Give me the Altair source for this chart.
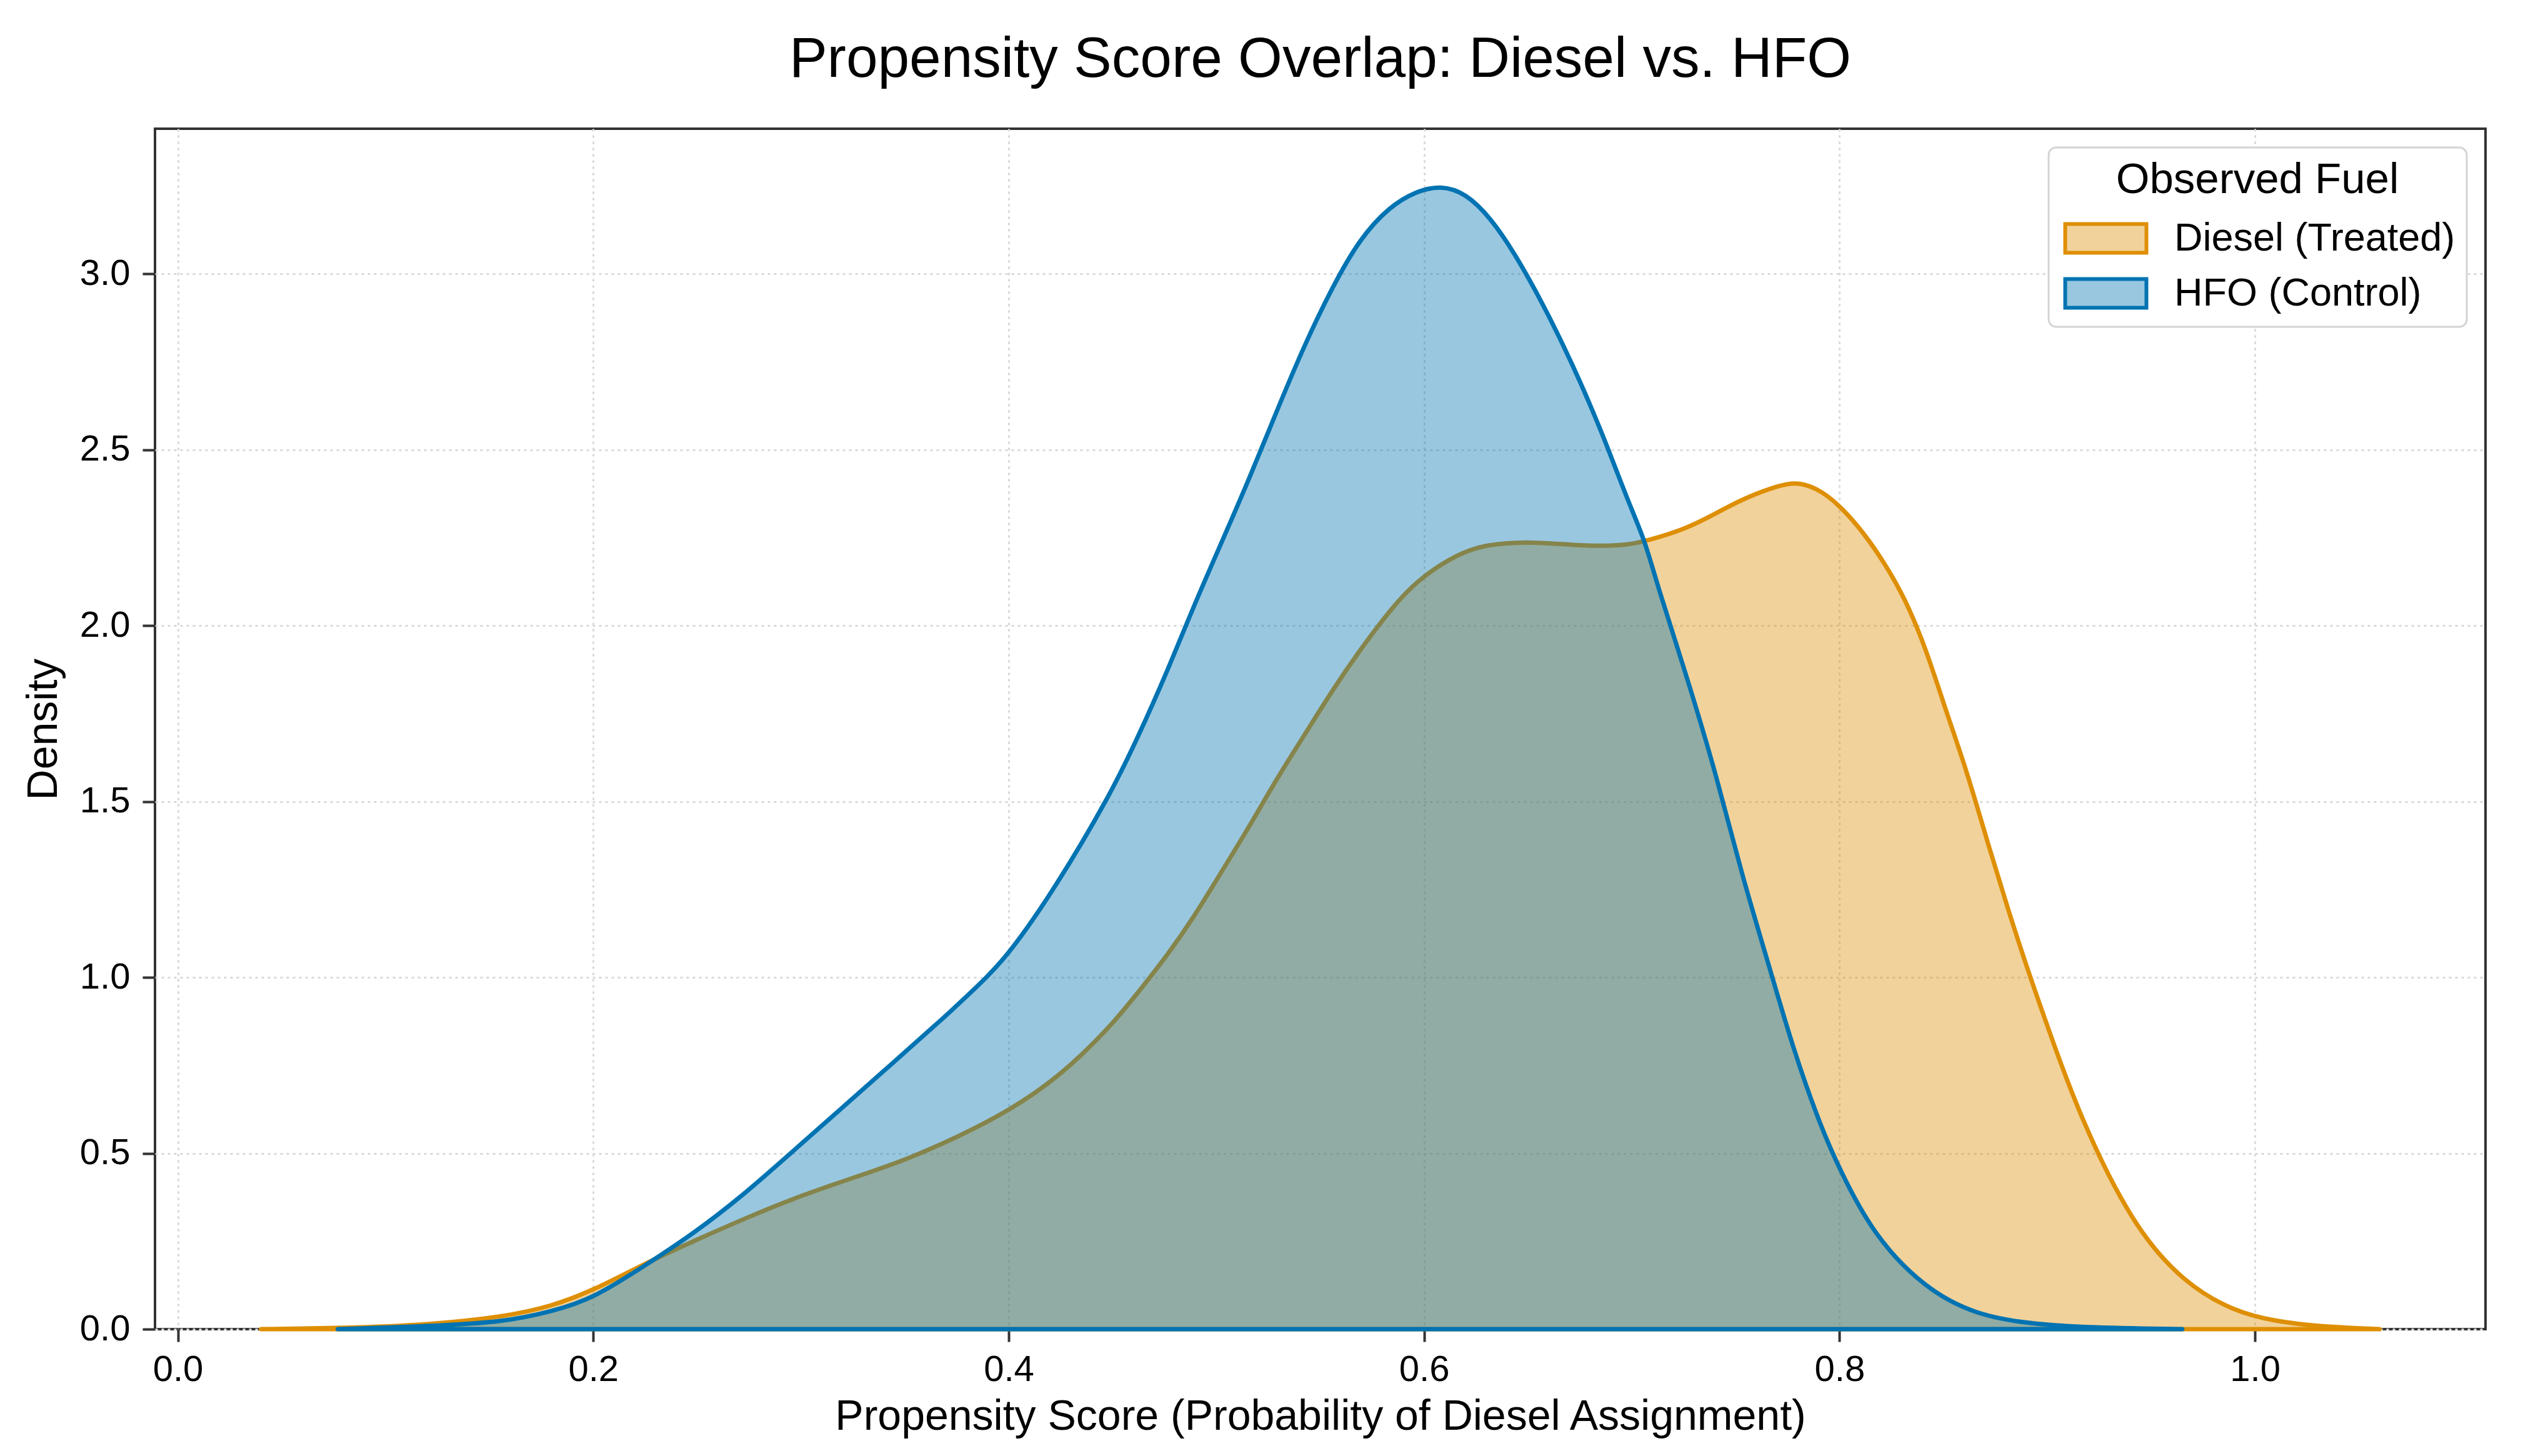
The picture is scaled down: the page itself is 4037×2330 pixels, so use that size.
import altair as alt
import pandas as pd

# ---- data ----
groups = ["Diesel (Treated)", "HFO (Control)"]

diesel_x = [0.040, 0.080, 0.120, 0.157, 0.180, 0.200, 0.226, 0.250, 0.275, 0.300,
            0.325, 0.350, 0.375, 0.400, 0.425, 0.449, 0.462, 0.476, 0.489, 0.502,
            0.516, 0.529, 0.5425, 0.556, 0.569, 0.583, 0.596, 0.616, 0.630, 0.6435,
            0.657, 0.671, 0.685, 0.698, 0.7065, 0.726, 0.7395, 0.753, 0.7716, 0.7805,
            0.7915, 0.8015, 0.8115, 0.8215, 0.8315, 0.8415, 0.8514, 0.8614, 0.8714, 0.8814,
            0.8914, 0.9014, 0.916, 0.941, 0.966, 0.990, 1.010, 1.030, 1.060]
diesel_y = [0.000, 0.003, 0.012, 0.035, 0.065, 0.110, 0.190, 0.255, 0.320, 0.380,
            0.430, 0.480, 0.545, 0.620, 0.720, 0.860, 0.955, 1.060, 1.170, 1.296,
            1.430, 1.565, 1.690, 1.818, 1.930, 2.040, 2.127, 2.205, 2.230, 2.237,
            2.236, 2.230, 2.226, 2.230, 2.240, 2.275, 2.316, 2.360, 2.401, 2.409,
            2.384, 2.333, 2.265, 2.180, 2.078, 1.937, 1.755, 1.585, 1.381, 1.188,
            1.007, 0.839, 0.600, 0.295, 0.130, 0.050, 0.022, 0.008, 0.000]

hfo_x = [0.077, 0.120, 0.157, 0.180, 0.200, 0.226, 0.249, 0.272, 0.295, 0.318,
         0.341, 0.364, 0.387, 0.400, 0.422, 0.449, 0.462, 0.476, 0.489, 0.502,
         0.516, 0.529, 0.5425, 0.556, 0.569, 0.583, 0.596, 0.608, 0.620, 0.632,
         0.6435, 0.657, 0.671, 0.685, 0.698, 0.7065, 0.712, 0.726, 0.741, 0.753,
         0.766, 0.778, 0.791, 0.800, 0.816, 0.841, 0.866, 0.891, 0.916, 0.965]
hfo_y = [0.000, 0.008, 0.020, 0.050, 0.087, 0.185, 0.275, 0.380, 0.500, 0.620,
         0.740, 0.860, 0.985, 1.065, 1.250, 1.520, 1.680, 1.865, 2.055, 2.230,
         2.420, 2.610, 2.800, 2.965, 3.100, 3.190, 3.235, 3.252, 3.230, 3.160,
         3.060, 2.918, 2.750, 2.560, 2.356, 2.240, 2.120, 1.865, 1.570, 1.290,
         1.035, 0.790, 0.575, 0.455, 0.270, 0.115, 0.040, 0.016, 0.005, 0.000]

x_ticks = [0.0, 0.2, 0.4, 0.6, 0.8, 1.0]
y_ticks = [0.0, 0.5, 1.0, 1.5, 2.0, 2.5, 3.0]

fill_colors = ["rgba(222,143,5,0.4)", "rgba(1,115,178,0.4)"]
line_colors = ["#DE8F05", "#0173B2"]

df = pd.DataFrame({
    "score": diesel_x + hfo_x,
    "density": diesel_y + hfo_y,
    "fuel": [groups[0]] * len(diesel_x) + [groups[1]] * len(hfo_x),
})

FONT = "Liberation Sans"
W, H = 3729, 1921

legend = alt.Legend(
    title="Observed Fuel",
    orient="top-right",
    offset=30,
    padding=18,
    cornerRadius=12,
    strokeColor="#d4d4d4",
    fillColor="white",
    titleFont=FONT,
    titleFontSize=69,
    titleFontWeight="normal",
    titleColor="black",
    titleAnchor="middle",
    titlePadding=27,
    titleLimit=2000,
    labelFont=FONT,
    labelFontSize=63,
    labelColor="black",
    labelOffset=120,
    labelLimit=2000,
    rowPadding=17,
    symbolType="M-1,-1H4.65V1H-1Z",
    symbolSize=2116,
    symbolStrokeWidth=6,
)

base = alt.Chart(df).mark_area(
    strokeWidth=7, interpolate="basis", strokeJoin="round"
).encode(
    x=alt.X(
        "score:Q",
        scale=alt.Scale(domain=[-0.011, 1.111], nice=False, zero=False),
        axis=alt.Axis(
            values=x_ticks, format=".1f",
            title="Propensity Score (Probability of Diesel Assignment)",
            labelPadding=16, titlePadding=12,
        ),
    ),
    y=alt.Y(
        "density:Q",
        stack=None,
        scale=alt.Scale(domain=[0, 3.413], nice=False),
        axis=alt.Axis(
            values=y_ticks, format=".1f", title="Density",
            labelPadding=20, titleX=-158, titleY=H / 2, titleAngle=270,
            titleAlign="center", titleBaseline="alphabetic",
        ),
    ),
    fill=alt.Fill("fuel:N", scale=alt.Scale(domain=groups, range=fill_colors), legend=legend),
    stroke=alt.Stroke("fuel:N", scale=alt.Scale(domain=groups, range=line_colors), legend=legend),
)

diesel_layer = base.transform_filter(alt.datum.fuel == groups[0])
hfo_layer = base.transform_filter(alt.datum.fuel == groups[1])

chart = alt.layer(diesel_layer, hfo_layer).properties(
    width=W,
    height=H,
    padding={"left": 28, "top": 42, "right": 20, "bottom": 20},
    title=alt.Title(
        "Propensity Score Overlap: Diesel vs. HFO",
        font=FONT, fontSize=91, fontWeight="normal", color="black",
        anchor="middle", offset=64,
    ),
).configure_view(
    stroke="#333333", strokeWidth=4
).configure_axis(
    labelFont=FONT, labelFontSize=58, labelColor="black",
    titleFont=FONT, titleFontSize=68, titleFontWeight="normal", titleColor="black",
    tickColor="#333333", tickWidth=4, tickSize=20,
    domain=False,
    grid=True, gridColor="#d9d9d9", gridDash=[4, 6], gridWidth=3,
).configure_legend(
    strokeWidth=3
)

chart.save("out.html", embed_options={"renderer": "svg", "actions": False})
